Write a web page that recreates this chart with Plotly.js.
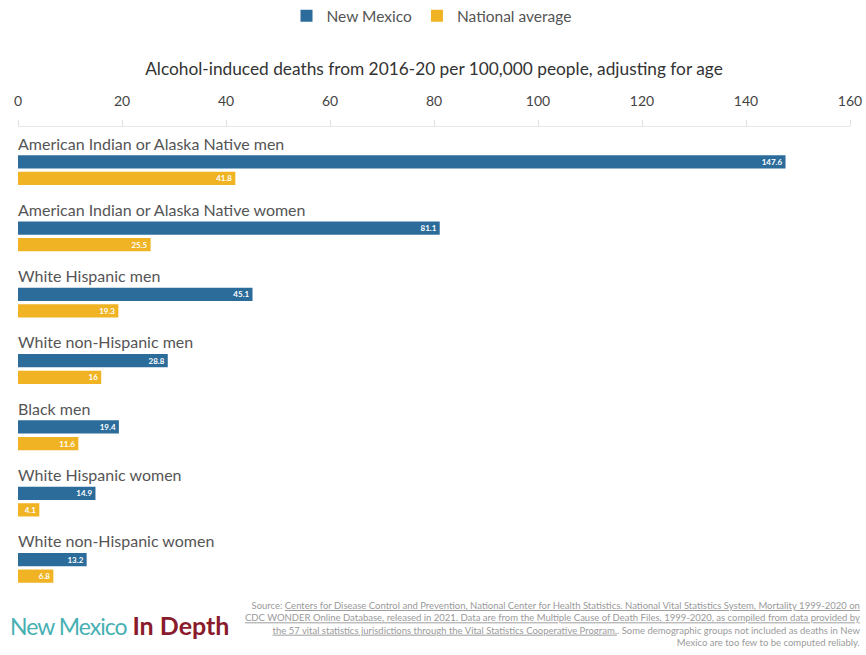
<!DOCTYPE html>
<html>
<head>
<meta charset="utf-8">
<script src="https://cdn.plot.ly/plotly-3.0.1.min.js"></script>
<style>html,body{margin:0;padding:0;background:#fff;}#chart{width:866px;height:655px;}</style>
</head>
<body>
<div id="chart"></div>
<script>
var categories = [
  "American Indian or Alaska Native men",
  "American Indian or Alaska Native women",
  "White Hispanic men",
  "White non-Hispanic men",
  "Black men",
  "White Hispanic women",
  "White non-Hispanic women"
];
var newMexico = [147.6, 81.1, 45.1, 28.8, 19.4, 14.9, 13.2];
var national = [41.8, 25.5, 19.3, 16, 11.6, 4.1, 6.8];
var tickVals = [0, 20, 40, 60, 80, 100, 120, 140, 160];
var seriesNames = ["New Mexico", "National average"];
var axisTitle = "Alcohol-induced deaths from 2016-20 per 100,000 people, adjusting for age";
var sourceText = "Source: <u>Centers for Disease Control and Prevention, National Center for Health Statistics. National Vital Statistics System, Mortality 1999-2020 on</u><br>" +
  "<u>CDC WONDER Online Database, released in 2021. Data are from the Multiple Cause of Death Files, 1999-2020, as compiled from data provided by</u><br>" +
  "<u>the 57 vital statistics jurisdictions through the Vital Statistics Cooperative Program.</u>. Some demographic groups not included as deaths in New<br>" +
  "Mexico are too few to be computed reliably.";

var FONT = "Lato, 'Open Sans', sans-serif";
var BLUE = "#2c6c9b";
var YELLOW = "#f0b323";

function fmt(v){ return String(v); }

var traces = [
  {
    type: "bar", orientation: "h", name: seriesNames[0],
    y: categories, x: newMexico,
    marker: {color: BLUE},
    text: newMexico.map(fmt), textposition: "inside", insidetextanchor: "end", textangle: 0,
    textfont: {color: "#ffffff", size: 8, family: FONT, weight: "bold"},
    constraintext: "none", hoverinfo: "x+name"
  },
  {
    type: "bar", orientation: "h", name: seriesNames[1],
    y: categories, x: national,
    marker: {color: YELLOW},
    text: national.map(fmt), textposition: "inside", insidetextanchor: "end", textangle: 0,
    textfont: {color: "#ffffff", size: 8, family: FONT, weight: "bold"},
    constraintext: "none", hoverinfo: "x+name"
  }
];

var annotations = categories.map(function(c){
  return {
    x: 0, y: c, xref: "x", yref: "y", xanchor: "left", yanchor: "middle",
    yshift: 27, xshift: -2, text: c, showarrow: false,
    font: {family: FONT, size: 16, color: "#555555"}
  };
});
annotations.push({
  xref: "paper", yref: "paper", x: -0.012, y: -0.05, xanchor: "left", yanchor: "middle",
  showarrow: false,
  text: "<span style='color:#47b0b3;letter-spacing:-1px'>New Mexico</span> <b><span style='color:#8a1b2d;font-size:25px'>In Depth</span></b>",
  font: {family: FONT, size: 23}
});
annotations.push({
  xref: "paper", yref: "paper", x: 1.015, y: -0.048, xanchor: "right", yanchor: "middle",
  align: "right", showarrow: false, text: sourceText,
  font: {family: FONT, size: 9.5, color: "#9a9a9a"}
});

var layout = {
  width: 866, height: 655,
  margin: {l: 18, r: 16, t: 127, b: 54, autoexpand: false},
  paper_bgcolor: "#ffffff", plot_bgcolor: "#ffffff",
  barmode: "group", bargap: 0.5, bargroupgap: 0.2,
  showlegend: true,
  legend: {orientation: "h", x: 0.497, xanchor: "center", y: 1.234, yanchor: "middle",
           yref: "paper", font: {family: FONT, size: 15.5, color: "#555555"}, traceorder: "normal",
           itemwidth: 30},
  xaxis: {
    side: "top", range: [0, 160], tickvals: tickVals, ticktext: tickVals.map(String),
    showgrid: false, zeroline: false, showline: true, linecolor: "#e8e8e8",
    ticks: "outside", ticklen: 6, tickcolor: "#e0e0e0", ticklabelstandoff: 8,
    tickfont: {family: FONT, size: 14, color: "#444444"}, automargin: false,
    title: {text: axisTitle, standoff: 12, font: {family: FONT, size: 17.3, color: "#333333"}},
    fixedrange: true
  },
  yaxis: {
    type: "category", categoryorder: "array", categoryarray: categories,
    range: [6.5, -0.65], showticklabels: false, showgrid: false, zeroline: false,
    showline: false, ticks: "", fixedrange: true, automargin: false
  },
  annotations: annotations,
  font: {family: FONT}
};

Plotly.newPlot("chart", traces, layout, {displayModeBar: false, staticPlot: true});
</script>
</body>
</html>
